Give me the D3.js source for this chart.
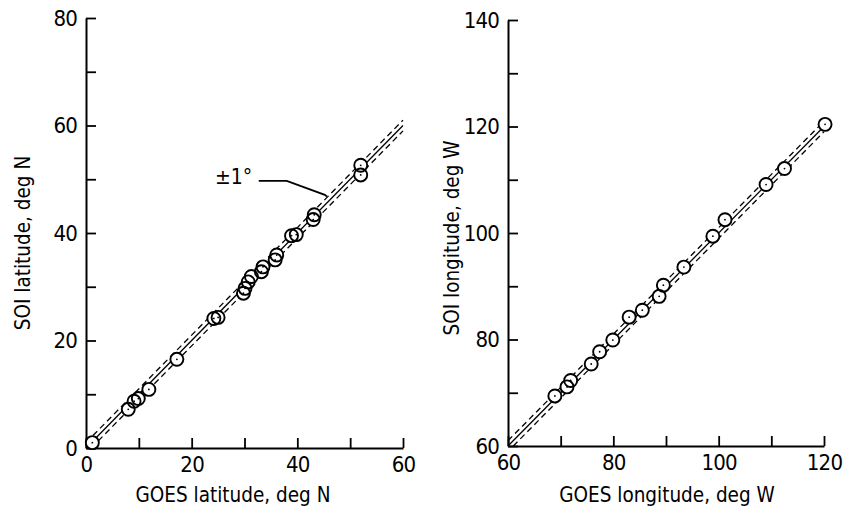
<!DOCTYPE html>
<html><head><meta charset="utf-8">
<script src="https://cdn.jsdelivr.net/npm/d3@7/dist/d3.min.js"></script>
<style>
body{margin:0;background:#fff;}
text{font-family:"Liberation Sans Narrow","DejaVu Sans Condensed",sans-serif;font-stretch:condensed;fill:#000;}
</style></head>
<body><svg id="c" width="844" height="511"></svg>
<script>
// ---- data ----
const latGOES = [1.2, 8.0, 9.1, 9.9, 11.9, 17.2, 24.2, 25.0, 29.8, 30.1, 30.7, 31.3, 33.2, 33.5, 35.8, 36.1, 38.9, 39.8, 43.0, 43.2, 52.0, 52.0];
const latSOI  = [1.0, 7.2, 8.7, 9.2, 10.9, 16.5, 24.1, 24.3, 28.8, 29.7, 30.9, 31.9, 32.8, 33.7, 35.0, 35.9, 39.5, 39.7, 42.5, 43.4, 52.6, 50.8];
const lonGOES = [68.9, 71.2, 71.9, 75.8, 77.4, 79.9, 83.0, 85.5, 88.7, 89.5, 93.4, 98.9, 101.2, 109.0, 112.5, 120.2];
const lonSOI  = [69.4, 71.1, 72.3, 75.4, 77.7, 79.9, 84.2, 85.5, 88.1, 90.2, 93.6, 99.4, 102.5, 109.1, 112.1, 120.4];
const latXTicks = [0,10,20,30,40,50,60];
const latYTicks = [0,10,20,30,40,50,60,70,80];
const lonXTicks = [60,70,80,90,100,110,120];
const lonYTicks = [60,70,80,90,100,110,120,130,140];
const band = 1; // ±1 deg
const latLineRange = [0,60];
const lonLineRange = [60,120];
const annText = "\u00B11\u00B0";
const annLeader = [[32.7,49.7],[38.0,49.7],[45.2,47.1],[45.6,46.8]];
const annPos = [24.4,49.2];

const svg = d3.select("#c");

function panel(cfg){
  const x = d3.scaleLinear().domain(cfg.xd).range(cfg.xr);
  const y = d3.scaleLinear().domain(cfg.yd).range(cfg.yr);
  const g = svg.append("g");
  const fmt = d => (d % 20 === 0 ? d : "");
  const ax = g.append("g").attr("transform",`translate(0,${cfg.yr[0]})`)
    .call(d3.axisBottom(x).tickValues(cfg.xt).tickFormat(fmt).tickSizeInner(-10).tickSizeOuter(0).tickPadding(8));
  const ay = g.append("g").attr("transform",`translate(${cfg.xr[0]},0)`)
    .call(d3.axisLeft(y).tickValues(cfg.yt).tickFormat(fmt).tickSizeInner(-10).tickSizeOuter(0).tickPadding(9));
  [ax,ay].forEach(a=>{
    a.select(".domain").attr("stroke","#000").attr("stroke-width",2);
    a.selectAll(".tick line").attr("stroke","#000").attr("stroke-width",1.8);
    a.selectAll(".tick text").attr("font-size",22).attr("letter-spacing",-0.8).attr("fill","#000");
  });
  // reference lines
  const lr = cfg.lr;
  const lines = [
    {off:0, dash:null},
    {off:band, dash:"6,4"},
    {off:-band, dash:"6,4"}
  ];
  lines.forEach(l=>{
    let x0 = lr[0], x1 = lr[1];
    if (lr[0] + l.off < cfg.yd[0]) x0 = cfg.yd[0] - l.off;
    g.append("line")
      .attr("x1",x(x0)).attr("y1",y(x0+l.off))
      .attr("x2",x(x1)).attr("y2",y(x1+l.off))
      .attr("stroke","#000").attr("stroke-width",1.3)
      .attr("stroke-dasharray",l.dash);
  });
  const pts = cfg.xs.map((v,i)=>[v,cfg.ys[i]]);
  g.append("g").selectAll("circle").data(pts).join("circle")
    .attr("cx",d=>x(d[0])).attr("cy",d=>y(d[1])).attr("r",6.5)
    .attr("fill","#fff").attr("stroke","none");
  g.append("g").selectAll("circle").data(pts).join("circle")
    .attr("cx",d=>x(d[0])).attr("cy",d=>y(d[1])).attr("r",6.5)
    .attr("fill","none").attr("stroke","#000").attr("stroke-width",1.9);
  g.append("g").selectAll("circle").data(pts).join("circle")
    .attr("cx",d=>x(d[0])).attr("cy",d=>y(d[1])).attr("r",0.9)
    .attr("fill","#000");
  // titles
  g.append("text").attr("x",cfg.xtx).attr("y",502).attr("text-anchor","middle")
    .attr("font-size",20.5).text(cfg.xtitle);
  g.append("text").attr("transform",`translate(${cfg.ytx},${cfg.yty}) rotate(-90)`)
    .attr("text-anchor","middle").attr("font-size",20.5).text(cfg.ytitle);
  return {x,y,g};
}

const L = panel({xd:[0,60], yd:[0,80], xr:[86,403], yr:[448,18], xt:latXTicks, yt:latYTicks,
  lr:latLineRange, xs:latGOES, ys:latSOI, xtitle:"GOES latitude, deg N", ytitle:"SOI latitude, deg N",
  xtx:233, ytx:30, yty:243});
const R = panel({xd:[60,120], yd:[60,140], xr:[508,824], yr:[446,20], xt:lonXTicks, yt:lonYTicks,
  lr:lonLineRange, xs:lonGOES, ys:lonSOI, xtitle:"GOES longitude, deg W", ytitle:"SOI longitude, deg W",
  xtx:667, ytx:459, yty:238});

// annotation
L.g.append("path")
  .attr("d", d3.line().x(d=>L.x(d[0])).y(d=>L.y(d[1]))(annLeader))
  .attr("fill","none").attr("stroke","#000").attr("stroke-width",1.8);
L.g.append("text").attr("x",L.x(annPos[0])).attr("y",L.y(annPos[1]))
  .attr("font-size",21).text(annText);
</script></body></html>
